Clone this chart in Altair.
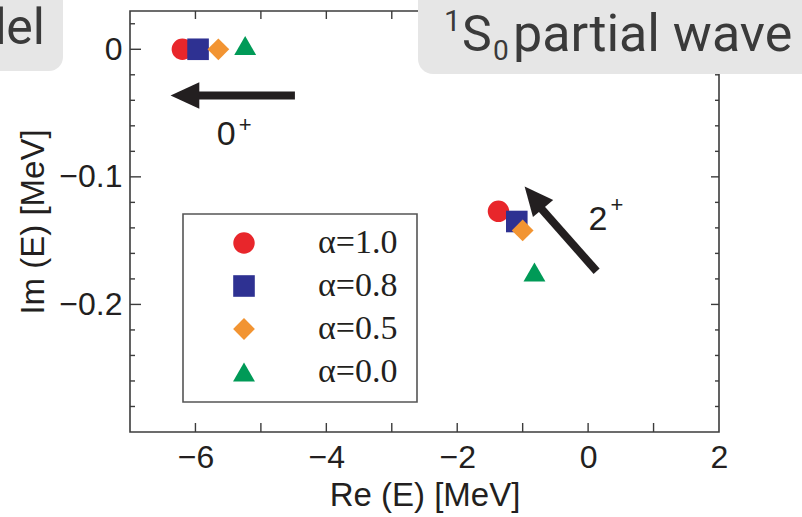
import altair as alt
import pandas as pd

# Complex-energy poles in the 1S0 channel for several alpha values
alpha_labels = ["α=1.0", "α=0.8", "α=0.5", "α=0.0"]
colors = ["#e8262b", "#2e3192", "#f29432", "#009a57"]
shapes = ["circle", "square", "diamond", "triangle-up"]

# 0+ poles
re_0p = [-6.20, -5.96, -5.65, -5.24]
im_0p = [0.000, 0.000, 0.000, 0.003]
# 2+ poles
re_2p = [-1.37, -1.09, -1.00, -0.82]
im_2p = [-0.127, -0.135, -0.142, -0.1745]

# arrows showing how the poles move (tail -> tip)
arrow_tail_re = [-4.48, 0.13]
arrow_tail_im = [-0.0363, -0.174]
arrow_shaft_end_re = [-6.00, -0.77]
arrow_shaft_end_im = [-0.0363, -0.1217]
arrow_tip_re = [-6.38, -0.97]
arrow_tip_im = [-0.0363, -0.1076]
arrow_head_angle = [0, 50]

# state labels (0+ and 2+)
state_text = ["0", "2"]
state_re = [-5.53, 0.15]
state_im = [-0.0669, -0.1335]
sup_re = [-5.24, 0.44]
sup_im = [-0.059, -0.1218]

# axis ticks
x_label_ticks = [-6, -4, -2, 0, 2]
x_minor_ticks = [-6, -5, -4, -3, -2, -1, 0, 1]
y_label_ticks = [0, -0.1, -0.2]
y_minor_ticks = [0.02, -0.02, -0.04, -0.06, -0.08, -0.12, -0.14, -0.16,
                 -0.18, -0.22, -0.24, -0.26, -0.28]

W, H = 589, 421
INK = "#231f20"
FRAME = "#3c3c3c"
SANS = "Liberation Sans"

xs = alt.Scale(domain=[-7, 2], nice=False, zero=False)
ys = alt.Scale(domain=[-0.3, 0.03], nice=False, zero=False)

points = pd.DataFrame({
    "re": re_0p + re_2p,
    "im": im_0p + im_2p,
    "alpha": alpha_labels + alpha_labels,
    "order": list(range(8)),
})

legend = alt.Legend(
    title=None, orient="none", legendX=97, legendY=215,
    symbolSize=600, symbolStrokeWidth=0, symbolOpacity=1,
    labelFont="Liberation Serif", labelFontSize=34, labelColor=INK,
    rowPadding=9, labelOffset=57, padding=0, symbolOffset=0,
)

base_x = alt.X("re:Q", scale=xs, axis=alt.Axis(
    values=x_label_ticks, format="d", ticks=False, domain=False, grid=False,
    labelFont=SANS, labelFontSize=32, labelColor=INK, labelPadding=10,
    labelFlush=False, labelOverlap=False,
    title="Re (E) [MeV]", titleFont=SANS, titleFontSize=33,
    titleFontWeight="normal", titleColor=INK, titleY=63,
    titleBaseline="middle"))
base_y = alt.Y("im:Q", scale=ys, axis=alt.Axis(
    values=y_label_ticks, ticks=False, domain=False, grid=False,
    labelExpr="datum.value == 0 ? '0' : format(datum.value, '.1f')",
    labelFont=SANS, labelFontSize=32, labelColor=INK, labelPadding=8,
    labelFlush=False, labelOverlap=False,
    title="Im (E) [MeV]", titleFont=SANS, titleFontSize=33,
    titleFontWeight="normal", titleColor=INK, titleX=-97, titleY=H / 2,
    titleAngle=-90, titleBaseline="middle", titleAlign="center"))

pts = alt.Chart(points).mark_point(filled=True, opacity=1).encode(
    x=base_x,
    y=base_y,
    color=alt.Color("alpha:N", scale=alt.Scale(domain=alpha_labels, range=colors),
                    legend=legend),
    shape=alt.Shape("alpha:N", scale=alt.Scale(domain=alpha_labels, range=shapes),
                    legend=legend),
    size=alt.Size("alpha:N", scale=alt.Scale(domain=alpha_labels,
                                             range=[460, 480, 560, 610]),
                  legend=None),
    order="order:Q",
)

one = pd.DataFrame({"k": [0]})

# plot frame
frame = alt.Chart(one).mark_rect(fillOpacity=0, stroke=FRAME, strokeWidth=1.6).encode(
    x=alt.value(0), x2=alt.value(W), y=alt.value(0), y2=alt.value(H))

# legend box
legend_box = alt.Chart(one).mark_rect(fill="white", stroke="#555555", strokeWidth=1.6).encode(
    x=alt.value(53), x2=alt.value(287), y=alt.value(203), y2=alt.value(391))

# ticks on all four sides, pointing inward
xt = pd.DataFrame({"re": x_minor_ticks})
ytm = pd.DataFrame({"im": y_minor_ticks})
ytM = pd.DataFrame({"im": y_label_ticks})
tick_style = dict(color=FRAME, strokeWidth=1.4)
ticks = [
    alt.Chart(xt).mark_rule(**tick_style).encode(
        x=alt.X("re:Q", scale=xs), y=alt.value(H), y2=alt.value(H - 9)),
    alt.Chart(xt).mark_rule(**tick_style).encode(
        x=alt.X("re:Q", scale=xs), y=alt.value(0), y2=alt.value(8)),
    alt.Chart(ytm).mark_rule(**tick_style).encode(
        y=alt.Y("im:Q", scale=ys), x=alt.value(0), x2=alt.value(5)),
    alt.Chart(ytM).mark_rule(**tick_style).encode(
        y=alt.Y("im:Q", scale=ys), x=alt.value(0), x2=alt.value(11)),
    alt.Chart(ytm).mark_rule(**tick_style).encode(
        y=alt.Y("im:Q", scale=ys), x=alt.value(W), x2=alt.value(W - 4)),
    alt.Chart(ytM).mark_rule(**tick_style).encode(
        y=alt.Y("im:Q", scale=ys), x=alt.value(W), x2=alt.value(W - 8)),
]

arrows = pd.DataFrame({
    "re": arrow_tail_re, "im": arrow_tail_im,
    "re2": arrow_shaft_end_re, "im2": arrow_shaft_end_im,
    "tre": arrow_tip_re, "tim": arrow_tip_im,
    "ang": arrow_head_angle,
})
shafts = alt.Chart(arrows).mark_rule(color=INK, strokeWidth=8).encode(
    x=alt.X("re:Q", scale=xs), y=alt.Y("im:Q", scale=ys),
    x2="re2:Q", y2="im2:Q")
heads = alt.Chart(arrows).mark_point(
    shape="M 0 0 L 1 -0.46 L 1 0.46 Z", filled=True, color=INK, opacity=1,
    size=3300).encode(
    x=alt.X("tre:Q", scale=xs), y=alt.Y("tim:Q", scale=ys),
    angle=alt.Angle("ang:Q", scale=None))

states = pd.DataFrame({"t": state_text, "re": state_re, "im": state_im,
                       "sre": sup_re, "sim": sup_im})
state_lbl = alt.Chart(states).mark_text(font=SANS, fontSize=34, color=INK).encode(
    x=alt.X("re:Q", scale=xs), y=alt.Y("im:Q", scale=ys), text="t:N")
state_sup = alt.Chart(states).mark_text(font=SANS, fontSize=22, color=INK, text="+").encode(
    x=alt.X("sre:Q", scale=xs), y=alt.Y("sim:Q", scale=ys))

# slide captions laid over the figure
GREY_BOX = "#e6e6e6"
CAP = "#3a3a3a"
left_box = alt.Chart(one).mark_rect(fill=GREY_BOX, cornerRadius=14).encode(
    x=alt.value(-150), x2=alt.value(-67), y=alt.value(-40), y2=alt.value(60))
left_txt = alt.Chart(one).mark_text(text="del", font="Roboto", fontSize=50,
                                    color=CAP, align="right", baseline="alphabetic").encode(
    x=alt.value(-85), y=alt.value(33))
right_box = alt.Chart(one).mark_rect(fill=GREY_BOX, cornerRadius=15).encode(
    x=alt.value(288), x2=alt.value(700), y=alt.value(-40), y2=alt.value(63))
cap_1 = alt.Chart(one).mark_text(text="1", font="Roboto", fontSize=30, color=CAP,
                                 align="left", baseline="alphabetic").encode(
    x=alt.value(314), y=alt.value(20))
cap_S = alt.Chart(one).mark_text(text="S", font="Roboto", fontSize=50, color=CAP,
                                 align="left", baseline="alphabetic").encode(
    x=alt.value(332), y=alt.value(40))
cap_0 = alt.Chart(one).mark_text(text="0", font="Roboto", fontSize=28, color=CAP,
                                 align="left", baseline="alphabetic").encode(
    x=alt.value(363), y=alt.value(49))
cap_rest = alt.Chart(one).mark_text(text="partial wave", font="Roboto", fontSize=52,
                                    color=CAP, align="left", baseline="alphabetic").encode(
    x=alt.value(383), y=alt.value(40))

chart = alt.layer(
    frame, *ticks, shafts, heads, state_lbl, state_sup, legend_box, pts,
    left_box, left_txt, right_box, cap_1, cap_S, cap_0, cap_rest,
).properties(
    width=W, height=H,
    padding={"left": 130, "top": 11, "right": 83, "bottom": 85},
    autosize="none",
    background="white",
).configure_view(stroke=None)

chart.save("out.html", embed_options={"renderer": "svg", "actions": False})
